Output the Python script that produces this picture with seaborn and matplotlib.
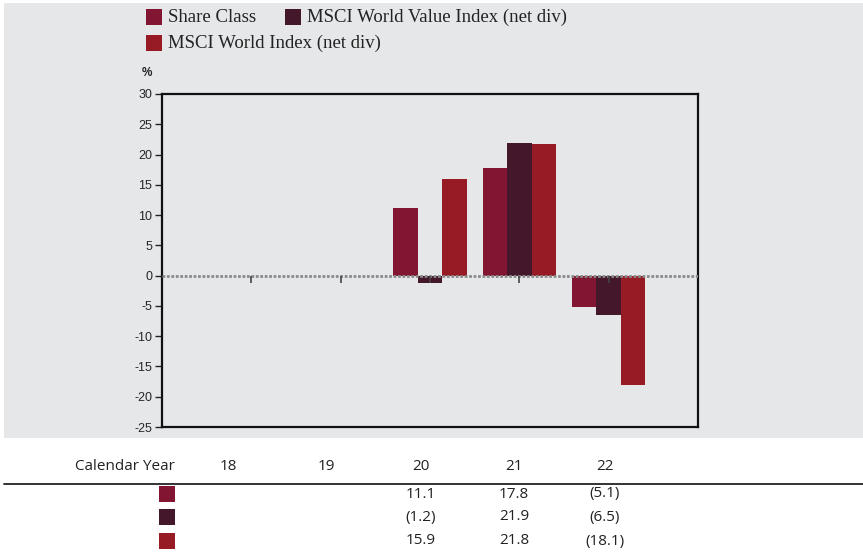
import pandas as pd
import numpy as np
import matplotlib.pyplot as plt
import seaborn as sns
from matplotlib.patches import Rectangle

# chart values
years = ['18', '19', '20', '21', '22']
series = ['Share Class', 'MSCI World Value Index (net div)', 'MSCI World Index (net div)']
share_class = [np.nan, np.nan, 11.1, 17.8, -5.1]
world_value = [np.nan, np.nan, -1.2, 21.9, -6.5]
world_index = [np.nan, np.nan, 15.9, 21.8, -18.1]
colors = ['#821632', '#44172a', '#961b25']
y_ticks = list(range(-25, 35, 5))

W, H = 863, 554


def fx(px):
    return px / W


def fy(py):
    return 1 - py / H


def fmt(v):
    if np.isnan(v):
        return ''
    return '({:.1f})'.format(-v) if v < 0 else '{:.1f}'.format(v)


df = pd.DataFrame({
    'year': years * 3,
    'series': np.repeat(series, len(years)),
    'value': share_class + world_value + world_index,
})

sns.set_theme(style='white')
plt.rcParams['font.family'] = ['Liberation Sans', 'DejaVu Sans']

fig = plt.figure(figsize=(W / 100, H / 100), dpi=100)
fig.patch.set_facecolor('white')
fig.patches.append(Rectangle((fx(4), fy(438)), fx(859), 435 / H, transform=fig.transFigure,
                             facecolor='#e6e7e9', edgecolor='none', zorder=-5))

ax = fig.add_axes([fx(162), fy(427), fx(536), 333 / H])
ax.set_facecolor('#e6e7e9')
sns.barplot(data=df, x='year', y='value', hue='series', order=years, hue_order=series,
            palette=colors, width=0.82, saturation=1, legend=False, ax=ax, zorder=2,
            edgecolor='none', linewidth=0)

ax.set_xlim(-1, len(years))
ax.set_ylim(-25, 30)
ax.set_yticks(y_ticks)
ax.set_yticklabels([str(t) for t in y_ticks], fontsize=9)
ax.set_xticks([])
ax.set_xlabel('')
ax.set_ylabel('')
ax.tick_params(axis='y', left=True, length=5, width=1, color='#222222', pad=2)
for s in ax.spines.values():
    s.set_color('#111111')
    s.set_linewidth(1.6)

# zero line with small category ticks
ax.axhline(0, color='#8a8a8a', lw=2, ls=(0, (1, 0.6)), zorder=3)
ax.plot(range(len(years)), [0] * len(years), ls='none', marker=3, ms=5, mew=1.2,
        color='#444444', zorder=4)

fig.text(fx(147), fy(73), '%', fontsize=8.5, fontweight='bold', ha='center', va='center')

# legend
leg_items = [(146, 17, 0), (285, 17, 1), (146, 43, 2)]
for lx, ly, i in leg_items:
    fig.patches.append(Rectangle((fx(lx), fy(ly + 8)), fx(16), 16 / H, transform=fig.transFigure,
                                 facecolor=colors[i], edgecolor='none'))
    fig.text(fx(lx + 22), fy(ly), series[i], fontsize=13.5, family=['Liberation Serif'],
             color='#222222', ha='left', va='center')

# table below
col_x = [228, 326, 421, 514, 605]
tfont = ['Open Sans', 'DejaVu Sans']
tsize = 11
fig.text(fx(175), fy(466), 'Calendar Year', fontsize=tsize, family=tfont, ha='right', va='center',
         color='#222222')
for cx, yr in zip(col_x, years):
    fig.text(fx(cx), fy(466), yr, fontsize=tsize, family=tfont, ha='center', va='center', color='#222222')
fig.add_artist(plt.Line2D([fx(4), fx(863)], [fy(484), fy(484)], color='#222222', lw=1.3,
                          transform=fig.transFigure))
rows_y = [494, 517, 541]
for ry, vals, c in zip(rows_y, [share_class, world_value, world_index], colors):
    fig.patches.append(Rectangle((fx(159), fy(ry + 8)), fx(16), 16 / H, transform=fig.transFigure,
                                 facecolor=c, edgecolor='none'))
    for cx, v in zip(col_x, vals):
        fig.text(fx(cx), fy(ry), fmt(v), fontsize=tsize, family=tfont, ha='center', va='center',
                 color='#222222')

fig.savefig('out.png', dpi=100)
